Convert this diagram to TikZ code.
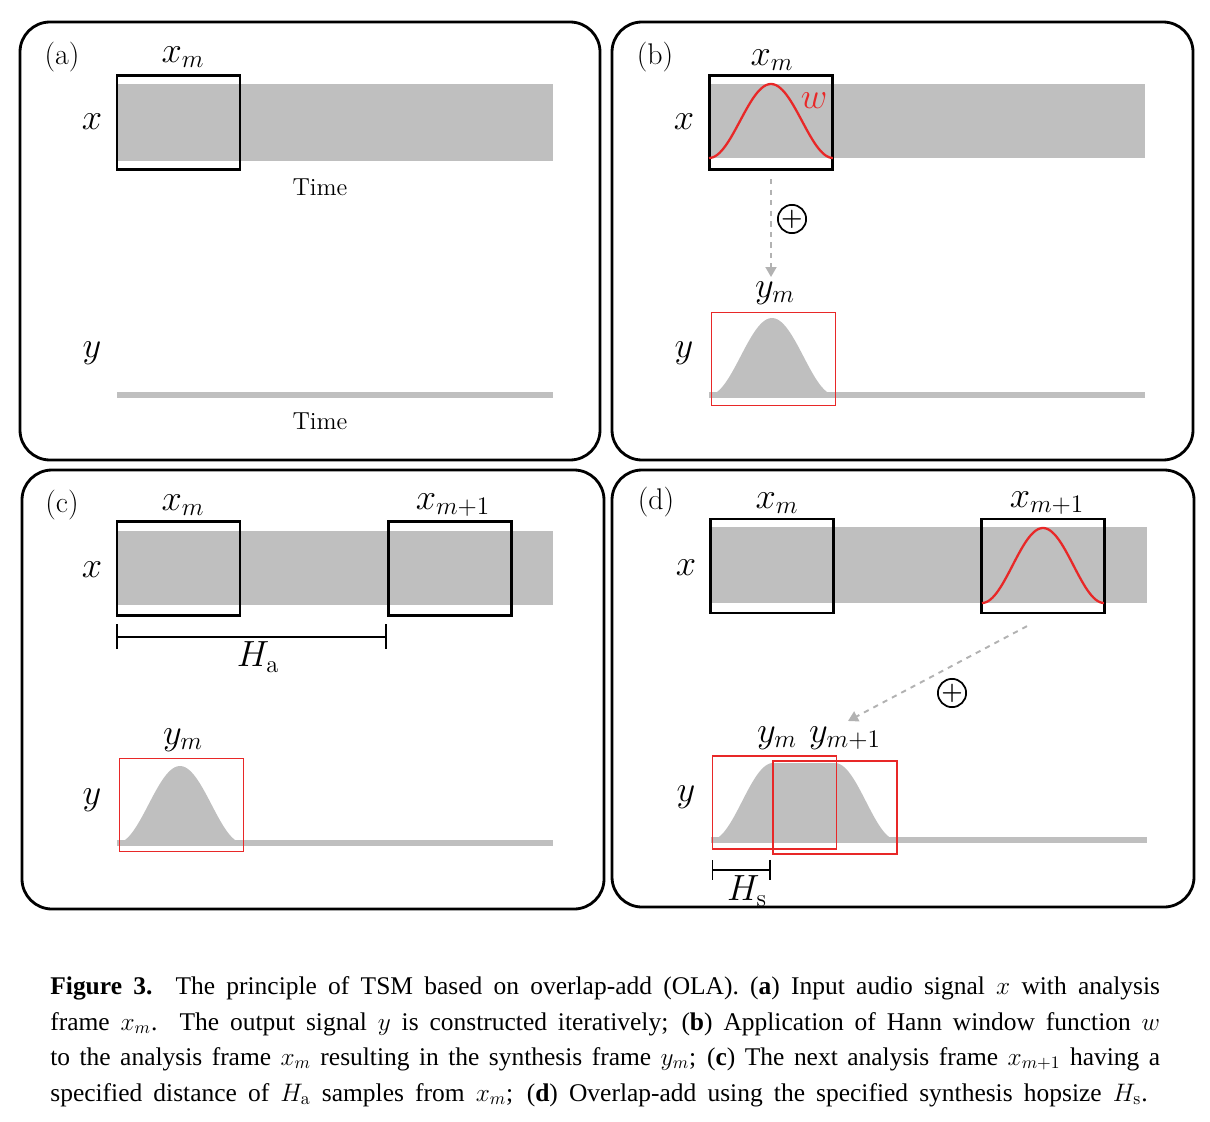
\documentclass[tikz,border=0pt]{standalone}
\usepackage{amsmath}
\usepackage{fontspec}
\usepackage{xcolor}
\usepackage{tikz}
\usetikzlibrary{arrows.meta,calc,positioning}
\newfontfamily\capserif{Liberation Serif}
\definecolor{bandgray}{RGB}{191,191,191}
\definecolor{winred}{RGB}{232,40,40}
\definecolor{arrgray}{RGB}{178,178,178}
\newcommand{\capfont}{\capserif\fontsize{14.5}{18}\selectfont}

\tikzset{
  panel/.style={draw,line width=1.6pt,rounded corners=0.6cm},
  anawin/.style={draw,line width=1.3pt,minimum width=2.46cm,minimum height=1.88cm,inner sep=0},
  synwin/.style={draw=winred,line width=1.1pt,minimum width=2.48cm,minimum height=1.86cm,inner sep=0},
  sym/.style={inner sep=0,font=\fontsize{20}{24}\selectfont},
  tag/.style={inner sep=0,font=\fontsize{17}{20}\selectfont},
  timelbl/.style={inner sep=0,font=\fontsize{14}{16}\selectfont},
  hann/.style={winred,line width=1.3pt},
  sigline/.style={bandgray,line width=0.11cm},
  ola/.style={dashed,arrgray,line width=1.1pt,-{Triangle[width=0.22cm,length=0.2cm]}},
  oplus/.style={circle,draw,line width=1pt,minimum size=0.54cm,inner sep=0,font=\bfseries\fontsize{14}{14}\selectfont},
  hopA/.style={line width=1.1pt,{Bar[width=0.5cm]}-{Bar[width=0.5cm]}},
  hopS/.style={line width=1.1pt,{Bar[width=0.4cm]}-{Bar[width=0.4cm]}},
  capline/.style={anchor=base west,inner sep=0,font=\capfont}
}

\begin{document}
\begin{tikzpicture}[x=0.02cm,y=-0.02cm]
\useasboundingbox (0,0) rectangle (1210,1122);

% panel frames
\draw[panel] (20,22) rectangle (600,460);
\draw[panel] (612,22) rectangle (1193,460);
\draw[panel] (22,470) rectangle (604,909);
\draw[panel] (612,470) rectangle (1194,907);

% (a) input signal and first analysis frame
\fill[bandgray] (117,84) rectangle (553,161);
\draw[sigline] (117,395) -- (553,395);
\node[anawin] (winA) at (178.5,122.5) {};
\node[tag] (tagA) at (62,57) {(a)};
\node[sym] (xmA) at (183,57) {$x_m$};
\node[sym] (xA) at (92,122) {$x$};
\node[sym] (yA) at (92,353) {$y$};
\node[timelbl] (timeA1) at (320,187) {Time};
\node[timelbl] (timeA2) at (320,421) {Time};

% (b) windowing, first synthesis frame
\fill[bandgray] (709,84) rectangle (1145,158);
\draw[sigline] (709,395) -- (1145,395);
\fill[bandgray] plot[domain=0:1,samples=60,smooth] ({709+126*\x},{395-77*pow(sin(180*\x),2)}) -- cycle;
\node[anawin] (winB) at (771,122.5) {};
\draw[hann] plot[domain=0:1,samples=60,smooth] ({709+124*\x},{158-74*pow(sin(180*\x),2)});
\node[synwin] (ymBwin) at (773.5,359) {};
\node[tag] (tagB) at (655,57) {(b)};
\node[sym] (xmB) at (772,60) {$x_m$};
\node[sym,winred] (wB) at (814,101) {$w$};
\node[sym] (xB) at (684,122) {$x$};
\node[sym] (yB) at (684,353) {$y$};
\node[sym] (ymB) at (775,293) {$y_m$};
\node[oplus] (plusB) at (792,219) {+};
\coordinate (ymBtop) at (771,277);
\draw[ola] ([yshift=-0.17cm]winB.south) -- (ymBtop);

% (c) next analysis frame at distance H_a
\fill[bandgray] (117,531) rectangle (553,605);
\draw[sigline] (117,843) -- (553,843);
\fill[bandgray] plot[domain=0:1,samples=60,smooth] ({117+126*\x},{843-77*pow(sin(180*\x),2)}) -- cycle;
\node[anawin] (winC1) at (178.5,568.5) {};
\node[anawin] (winC2) at (450,568.5) {};
\node[synwin] (ymCwin) at (181.5,805) {};
\draw[hopA] ([yshift=-0.4cm]winC1.south west) -- ([yshift=-0.4cm]winC2.south west);
\node[tag] (tagC) at (62,505) {(c)};
\node[sym] (xmC) at (183,505) {$x_m$};
\node[sym] (xm1C) at (453,505) {$x_{m+1}$};
\node[sym] (xC) at (92,570) {$x$};
\node[sym] (yC) at (92,800) {$y$};
\node[sym] (haC) at (258,657) {$H_\mathrm{a}$};
\node[sym] (ymC) at (183,740) {$y_m$};

% (d) overlap-add with hopsize H_s
\fill[bandgray] (711,527) rectangle (1147,603);
\draw[sigline] (711,840) -- (1147,840);
\fill[bandgray] plot[domain=0:1,samples=40,smooth] ({711+62*\x},{840-77*pow(sin(90*\x),2)})
  -- plot[domain=0:1,samples=40,smooth] ({835+62*\x},{840-77*pow(cos(90*\x),2)}) -- cycle;
\node[anawin] (winD1) at (772,566) {};
\node[anawin] (winD2) at (1043,566) {};
\draw[hann] plot[domain=0:1,samples=60,smooth] ({982+122*\x},{603-75*pow(sin(180*\x),2)});
\node[synwin] (ymDwin1) at (774.5,802.5) {};
\node[synwin] (ymDwin2) at (835,807.5) {};
\draw[hopS] ([yshift=-0.4cm]ymDwin1.south west) -- ([yshift=-0.4cm,xshift=-0.02cm]ymDwin2.south west |- ymDwin1.south);
\node[tag] (tagD) at (656,502) {(d)};
\node[sym] (xmD) at (777,503) {$x_m$};
\node[sym] (xm1D) at (1047,503) {$x_{m+1}$};
\node[sym] (xD) at (686,568) {$x$};
\node[sym] (yD) at (686,797) {$y$};
\node[sym] (ymD1) at (777,738) {$y_m$};
\node[sym] (ymD2) at (845,738) {$y_{m+1}$};
\node[sym] (hsD) at (747,891) {$H_\mathrm{s}$};
\node[oplus] (plusD) at (952,693) {+};
\coordinate (olaEnd) at (848,721);
\draw[ola] ([shift={(-16,12)}]winD2.south) -- (olaEnd);

% caption
\node[capline] (cap1) at (50,994) {\makebox[22.2cm][s]{\textbf{Figure 3.} The principle of TSM based on overlap-add (OLA). (\textbf{a}) Input audio signal $x$ with analysis}};
\node[capline] (cap2) at (50,1030) {\makebox[22.2cm][s]{frame $x_m$. The output signal $y$ is constructed iteratively; (\textbf{b}) Application of Hann window function $w$}};
\node[capline] (cap3) at (50,1065) {\makebox[22.2cm][s]{to the analysis frame $x_m$ resulting in the synthesis frame $y_m$; (\textbf{c}) The next analysis frame $x_{m+1}$ having a}};
\node[capline] (cap4) at (50,1101) {\makebox[21.95cm][s]{specified distance of $H_\mathrm{a}$ samples from $x_m$; (\textbf{d}) Overlap-add using the specified synthesis hopsize $H_\mathrm{s}$.}};
\end{tikzpicture}
\end{document}
